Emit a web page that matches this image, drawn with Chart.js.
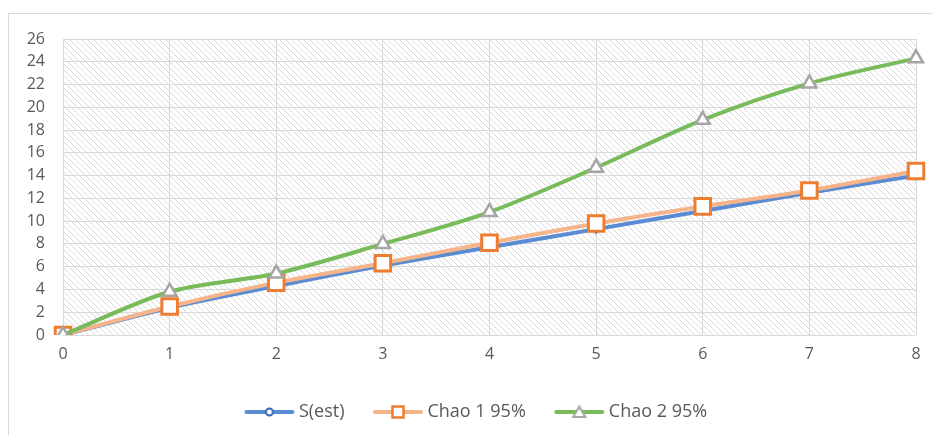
<!DOCTYPE html>
<html lang="en">
<head>
<meta charset="UTF-8">
<title>S(est) / Chao 1 / Chao 2</title>
<script src="https://cdn.jsdelivr.net/npm/chart.js@4"></script>
<style>
  html, body { margin: 0; padding: 0; background: #fff; }
  .wrap { position: relative; width: 932px; height: 435px; overflow: hidden; }
  .frame { position: absolute; left: 8px; top: 13px; width: 960px; height: 460px; border: 1px solid #d9d9d9; }
  canvas { position: absolute; left: 0; top: 0; }
</style>
</head>
<body>
<div class="wrap">
  <div class="frame"></div>
  <canvas id="chart" width="932" height="435"></canvas>
</div>
<script>
// samples 0..8
const samples = ['0', '1', '2', '3', '4', '5', '6', '7', '8'];
const sEst  = [0, 2.4, 4.3, 6.1, 7.7, 9.3, 10.9, 12.5, 14.0];
const chao1 = [0, 2.5, 4.6, 6.3, 8.1, 9.8, 11.3, 12.7, 14.4];
const chao2 = [0, 3.8, 5.4, 8.0, 10.8, 14.7, 18.9, 22.1, 24.3];
const seriesNames = ['S(est)', 'Chao 1 95%', 'Chao 2 95%'];

const textColor = '#595959';
const gridColor = '#d9d9d9';

// diagonal hatch for the plot area
function hatchPattern() {
    const c = document.createElement('canvas');
    c.width = 6; c.height = 6;
    const g = c.getContext('2d');
    g.fillStyle = '#fff';
    g.fillRect(0, 0, 6, 6);
    g.strokeStyle = '#d8d8d8';
    g.lineWidth = 1;
    g.beginPath();
    g.moveTo(-1, -1); g.lineTo(7, 7);
    g.moveTo(-1, 5); g.lineTo(1, 7);
    g.moveTo(5, -1); g.lineTo(7, 1);
    g.stroke();
    return c;
}

// excel-like legend key: line with marker in middle
function legendIcon(lineColor, shape, stroke, strokeW) {
    const c = document.createElement('canvas');
    c.width = 52; c.height = 16;
    const g = c.getContext('2d');
    g.strokeStyle = lineColor;
    g.lineWidth = 4;
    g.lineCap = 'round';
    g.beginPath(); g.moveTo(3, 8); g.lineTo(49, 8); g.stroke();
    g.fillStyle = '#fff';
    g.strokeStyle = stroke;
    g.lineWidth = strokeW;
    g.beginPath();
    if (shape === 'circle') {
        g.arc(26, 8, 3.5, 0, Math.PI * 2);
    } else if (shape === 'rect') {
        g.rect(20.5, 2.5, 11, 11);
    } else {
        g.moveTo(26, 2.5); g.lineTo(32, 13); g.lineTo(20, 13); g.closePath();
    }
    g.fill(); g.stroke();
    return c;
}

const icons = [
    legendIcon('#5b8bd2', 'circle', '#2f64b8', 2),
    legendIcon('#f5b48a', 'rect', '#ed7d31', 2.5),
    legendIcon('#77bb5a', 'tri', '#a5a5a5', 2)
];

const plotBg = {
    id: 'plotBg',
    afterLayout(chart) {
        // legend sits a bit right of centre in the original
        chart.legend.left += 20;
        chart.legend.right += 20;
    },
    beforeDraw(chart) {
        const a = chart.chartArea, ctx = chart.ctx;
        ctx.save();
        ctx.fillStyle = ctx.createPattern(hatchPattern(), 'repeat');
        ctx.fillRect(a.left, a.top, a.right - a.left, a.bottom - a.top);
        ctx.restore();
    }
};

new Chart(document.getElementById('chart'), {
    type: 'line',
    data: {
        labels: samples,
        datasets: [
            { label: seriesNames[0], data: sEst, borderColor: '#5b8bd2', borderWidth: 4, tension: 0.3,
              pointStyle: 'rectRot', pointRadius: 4, pointBackgroundColor: '#fff', pointBorderColor: '#2f64b8', pointBorderWidth: 1.5, order: 3 },
            { label: seriesNames[1], data: chao1, borderColor: '#f5b48a', borderWidth: 4, tension: 0.3,
              pointStyle: 'rect', pointRadius: 11, pointBackgroundColor: '#fff', pointBorderColor: '#ed7d31', pointBorderWidth: 3, order: 2 },
            { label: seriesNames[2], data: chao2, borderColor: '#77bb5a', borderWidth: 4, tension: 0.3,
              pointStyle: 'triangle', pointRadius: 8, pointBackgroundColor: '#fff', pointBorderColor: '#a5a5a5', pointBorderWidth: 2.5, order: 1 }
        ]
    },
    options: {
        responsive: false,
        animation: false,
        layout: { padding: { left: 0, top: 39, right: 16, bottom: 4 } },
        scales: {
            x: {
                offset: false,
                grid: { color: gridColor, drawTicks: false },
                border: { display: false },
                ticks: { color: textColor, font: { family: 'Open Sans', size: 16 }, padding: 10, maxRotation: 0 },
                afterFit(s) { s.height = 35; }
            },
            y: {
                min: 0, max: 26,
                grid: { color: gridColor, drawTicks: false },
                border: { display: false },
                ticks: { stepSize: 2, color: textColor, font: { family: 'Open Sans', size: 16 }, padding: 18 },
                afterFit(s) { s.width = 63; }
            }
        },
        plugins: {
            tooltip: { enabled: false },
            legend: {
                position: 'bottom',
                labels: {
                    usePointStyle: true,
                    pointStyleWidth: 41,
                    padding: 33,
                    color: textColor,
                    font: { family: 'Open Sans', size: 18 },
                    generateLabels() {
                        return seriesNames.map((n, i) => ({ text: n, pointStyle: icons[i], datasetIndex: i, fontColor: textColor, lineWidth: 0, hidden: false }));
                    }
                }
            }
        }
    },
    plugins: [plotBg]
});
</script>
</body>
</html>
